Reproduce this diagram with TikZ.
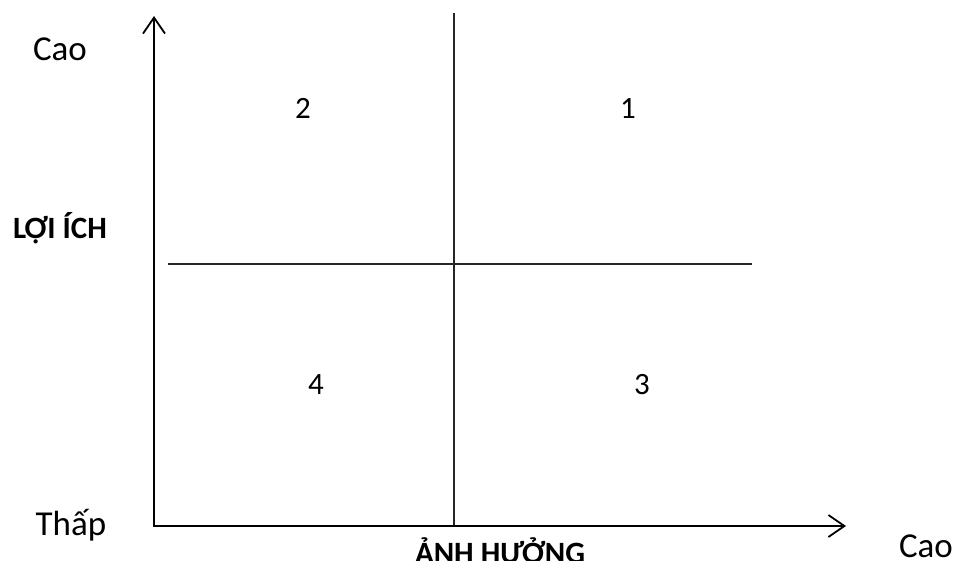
\documentclass[tikz,border=0pt]{standalone}
\usepackage{fontspec}
\setmainfont{Carlito}
\usetikzlibrary{arrows.meta}
\begin{document}
\begin{tikzpicture}[x=1pt,y=-1pt,
  axis/.style={line width=2pt,-{Straight Barb[length=16pt,width=22pt,line width=1.8pt]}},
  divider/.style={line width=1.3pt,draw=black!85},
  lbl/.style={font=\fontsize{35}{42}\selectfont,inner sep=0pt,anchor=base},
  blbl/.style={font=\fontsize{31}{38}\selectfont\bfseries,inner sep=0pt,anchor=base},
  num/.style={font=\fontsize{31}{38}\selectfont,inner sep=0pt,anchor=base}]
\useasboundingbox (0,0) rectangle (957,560);
\coordinate (o) at (154,526);
\coordinate (ytop) at (154,16);
\coordinate (xend) at (846,526);
\coordinate (vtop) at (454,13);
\coordinate (vbot) at (454,526);
\coordinate (hl) at (168,264);
\coordinate (hr) at (752,264);
\draw[divider] (vtop) -- (vbot);
\draw[divider] (hl) -- (hr);
\draw[axis] ([yshift=-1pt]o) -- (ytop);
\draw[axis] ([xshift=-1pt]o) -- (xend);
\node[lbl] (cao1) at (60,60) {Cao};
\node[blbl] (loi) at (60,238) {LỢI ÍCH};
\node[lbl] (thap) at (71,535) {Thấp};
\node[blbl] (anh) at (500,563) {ẢNH HƯỞNG};
\node[lbl] (cao2) at (926,557) {Cao};
\node[num] (n2) at (303,118) {2};
\node[num] (n1) at (628,118) {1};
\node[num] (n4) at (316,394) {4};
\node[num] (n3) at (642,394) {3};
\end{tikzpicture}
\end{document}
